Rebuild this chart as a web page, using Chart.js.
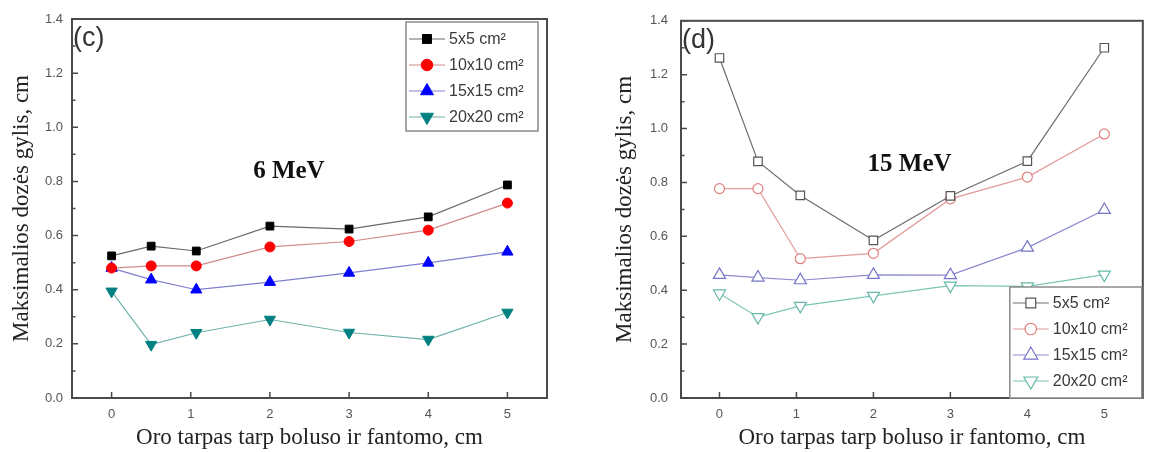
<!DOCTYPE html>
<html>
<head>
<meta charset="utf-8">
<script src="https://cdn.jsdelivr.net/npm/chart.js@4/dist/chart.umd.min.js"></script>
<style>
  html, body { margin: 0; padding: 0; background: #fff; }
  #wrap { position: relative; width: 1151px; height: 452px; overflow: hidden; background: #fff; }
  .panel { position: absolute; top: 0; height: 452px; }
  #pc { left: 0; width: 590px; }
  #pd { left: 590px; width: 561px; }
</style>
</head>
<body>
<div id="wrap">
  <div class="panel" id="pc"><canvas id="cc"></canvas></div>
  <div class="panel" id="pd"><canvas id="cd"></canvas></div>
</div>
<script>
// ---------- data ----------
const seriesLabels = ['5x5 cm²', '10x10 cm²', '15x15 cm²', '20x20 cm²'];
const xTickValues = [0, 1, 2, 3, 4, 5];
const yTickValues = [0, 0.2, 0.4, 0.6, 0.8, 1.0, 1.2, 1.4];
const xTitle = 'Oro tarpas tarp boluso ir fantomo, cm';
const yTitle = 'Maksimalios dozės gylis, cm';

// panel (c), 6 MeV
const xC = [0, 0.5, 1.07, 2, 3, 4, 5];
const c5x5   = [0.525, 0.561, 0.543, 0.635, 0.624, 0.669, 0.787];
const c10x10 = [0.480, 0.488, 0.488, 0.558, 0.578, 0.620, 0.720];
const c15x15 = [0.480, 0.437, 0.400, 0.428, 0.462, 0.499, 0.540];
const c20x20 = [0.394, 0.197, 0.241, 0.290, 0.242, 0.216, 0.316];

// panel (d), 15 MeV
const xD = [0, 0.5, 1.05, 2, 3, 4, 5];
const d5x5   = [1.262, 0.878, 0.752, 0.585, 0.750, 0.879, 1.300];
const d10x10 = [0.777, 0.777, 0.517, 0.537, 0.739, 0.820, 0.980];
const d15x15 = [0.457, 0.447, 0.437, 0.457, 0.456, 0.558, 0.698];
const d20x20 = [0.388, 0.300, 0.342, 0.379, 0.417, 0.414, 0.458];

// ---------- helpers ----------
const pts = (xs, ys) => xs.map((x, i) => ({ x: x, y: ys[i] }));
const SANS = 'Liberation Sans, Arial, sans-serif';
const SERIF = 'Liberation Serif, Times New Roman, serif';

function makeDatasets(xs, arrs, filled) {
  const lineCols = filled
    ? ['#6a6a6a', '#d08a8a', '#7f7fcf', '#6fb2aa']
    : ['#6e6e6e', '#e39a9a', '#8b8bd0', '#7cc4b6'];
  const markCols = filled
    ? ['#000000', '#ff0000', '#0000ff', '#008080']
    : ['#555555', '#e07f7f', '#7474c8', '#66b8a8'];
  const styles = ['rect', 'circle', 'triangle', 'triangle'];
  const rots = [0, 0, 0, 180];
  const radii = filled ? [5.5, 5, 6.5, 6.5] : [6, 5, 7, 7];
  return arrs.map((ys, i) => ({
    label: seriesLabels[i],
    data: pts(xs, ys),
    borderColor: lineCols[i],
    borderWidth: 1.2,
    pointStyle: styles[i],
    rotation: rots[i],
    pointRadius: radii[i],
    pointHoverRadius: radii[i],
    pointBackgroundColor: filled ? markCols[i] : '#ffffff',
    pointBorderColor: markCols[i],
    pointBorderWidth: filled ? 1 : 1.2,
    tension: 0,
    fill: false
  }));
}

const decorPlugin = {
  id: 'decor',
  afterDatasetsDraw(chart, args, opts) {
    const ctx = chart.ctx;
    const a = chart.chartArea;
    const xs = chart.scales.x, ys = chart.scales.y;
    ctx.save();
    // frame
    ctx.strokeStyle = '#4a4a4a';
    ctx.lineWidth = 2;
    ctx.strokeRect(a.left, a.top, a.right - a.left, a.bottom - a.top);
    // inside ticks
    ctx.lineWidth = 1.5;
    ctx.beginPath();
    yTickValues.forEach(v => {
      const y = ys.getPixelForValue(v);
      ctx.moveTo(a.left, y); ctx.lineTo(a.left + 6, y);
    });
    for (let k = 0; k < yTickValues.length - 1; k++) {
      const v = (yTickValues[k] + yTickValues[k + 1]) / 2;
      const y = ys.getPixelForValue(v);
      ctx.moveTo(a.left, y); ctx.lineTo(a.left + 3.5, y);
    }
    xTickValues.forEach(v => {
      const x = xs.getPixelForValue(v);
      ctx.moveTo(x, a.bottom); ctx.lineTo(x, a.bottom - 6);
    });
    ctx.stroke();
    // panel label
    ctx.fillStyle = '#333';
    ctx.font = '27px ' + SANS;
    ctx.textAlign = 'left';
    ctx.textBaseline = 'alphabetic';
    ctx.fillText(opts.panel, a.left + 1, a.top + 27);
    // energy label
    ctx.fillStyle = '#111';
    ctx.font = 'bold 25px ' + SERIF;
    ctx.textAlign = 'center';
    ctx.textBaseline = 'middle';
    ctx.fillText(opts.energy, xs.getPixelForValue(opts.ex), ys.getPixelForValue(opts.ey));
    // legend
    const L = opts.legend;
    const bx = a.right - L.right - L.w;
    const by = L.fromBottom ? a.bottom - L.h : a.top + L.top;
    ctx.fillStyle = '#fff';
    ctx.fillRect(bx, by, L.w, L.h);
    ctx.strokeStyle = '#8a8a8a';
    ctx.lineWidth = 1.5;
    ctx.strokeRect(bx, by, L.w, L.h);
    chart.data.datasets.forEach((ds, i) => {
      const cy = by + L.row0 + i * L.rowH;
      ctx.strokeStyle = ds.borderColor;
      ctx.lineWidth = 1.2;
      ctx.beginPath();
      ctx.moveTo(bx + 3, cy); ctx.lineTo(bx + 39, cy);
      ctx.stroke();
      ctx.fillStyle = ds.pointBackgroundColor;
      ctx.strokeStyle = ds.pointBorderColor;
      ctx.lineWidth = ds.pointBorderWidth;
      Chart.helpers.drawPoint(ctx, {
        pointStyle: ds.pointStyle, rotation: ds.rotation,
        radius: ds.pointRadius * 1.15, borderWidth: ds.pointBorderWidth
      }, bx + 21, cy);
      ctx.fillStyle = '#3a3a3a';
      ctx.font = '16px ' + SANS;
      ctx.textAlign = 'left';
      ctx.textBaseline = 'middle';
      ctx.fillText(ds.label, bx + 43, cy + 1);
    });
    ctx.restore();
  }
};

function makeChart(id, xs, arrs, filled, cfg) {
  return new Chart(document.getElementById(id), {
    type: 'line',
    data: { datasets: makeDatasets(xs, arrs, filled) },
    plugins: [decorPlugin],
    options: {
      responsive: true,
      maintainAspectRatio: false,
      animation: false,
      events: [],
      layout: { padding: { top: 19, right: cfg.padRight, left: 0, bottom: 0 } },
      plugins: {
        legend: { display: false },
        tooltip: { enabled: false },
        decor: cfg.decor
      },
      scales: {
        x: {
          type: 'linear',
          min: -0.5, max: 5.5,
          afterFit: s => { s.height = 54; },
          afterBuildTicks: s => { s.ticks = xTickValues.map(v => ({ value: v })); },
          grid: { display: false, drawTicks: false },
          border: { display: false },
          ticks: { padding: 9, color: '#555', font: { family: SANS, size: 13 }, callback: v => String(v), maxRotation: 0 },
          title: { display: true, text: xTitle, color: '#222', font: { family: SERIF, size: 23 }, padding: { top: 0, bottom: 0 } }
        },
        y: {
          type: 'linear',
          min: 0, max: 1.4,
          afterFit: s => { s.width = cfg.yWidth; },
          afterBuildTicks: s => { s.ticks = yTickValues.map(v => ({ value: v })); },
          grid: { display: false, drawTicks: false },
          border: { display: false },
          ticks: { padding: cfg.yPad, color: '#555', font: { family: SANS, size: 13 }, callback: v => Number(v).toFixed(1) },
          title: { display: true, text: yTitle, color: '#222', font: { family: SERIF, size: 23 }, padding: { top: cfg.yTitlePad, bottom: 0 } }
        }
      }
    }
  });
}

makeChart('cc', xC, [c5x5, c10x10, c15x15, c20x20], true, {
  padRight: 43, yWidth: 72, yPad: 9, yTitlePad: 8,
  decor: { panel: '(c)', energy: '6 MeV', ex: 2.24, ey: 0.835,
    legend: { right: 9, top: 3, w: 132, h: 109, row0: 17, rowH: 26, fromBottom: false } }
});
makeChart('cd', xD, [d5x5, d10x10, d15x15, d20x20], false, {
  padRight: 3, yWidth: 91, yPad: 13, yTitlePad: 21,
  decor: { panel: '(d)', energy: '15 MeV', ex: 2.47, ey: 0.868,
    legend: { right: 1, top: 0, w: 132, h: 111, row0: 16, rowH: 26, fromBottom: true } }
});
</script>
</body>
</html>
